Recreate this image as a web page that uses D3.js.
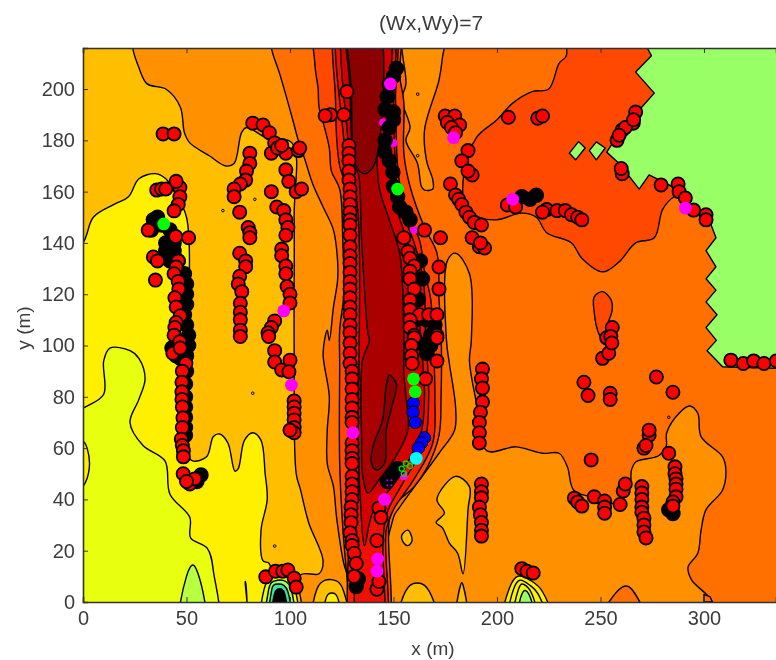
<!DOCTYPE html>
<html><head><meta charset="utf-8">
<script src="https://cdn.jsdelivr.net/npm/d3@7"></script>
<style>
html,body{margin:0;padding:0;background:#fff;overflow:hidden}
svg{display:block;filter:blur(0.55px)}
text{font-family:"Liberation Sans",Arial,sans-serif;fill:#3c3c3c}
</style></head><body>
<script>
const titleText="(Wx,Wy)=7", xLabel="x (m)", yLabel="y (m)";
const xTicks=[0,50,100,150,200,250,300];
const yTicks=[0,20,40,60,80,100,120,140,160,180,200];

// filled contour regions, in metres, listed from back to front
const leftOrange=[[-15,-15],[-15,232],[89,232],[91,216],[95,206],[101,189],[104,180],[107,173],[111,163],[116,154],[121,145],[123,133],[123,125.5],[121,115],[119,102],[118,106],[116,97],[119,80],[118,67],[118,54],[121,45],[122.5,33],[126,15],[129,7],[130,-15]];
const rightOrange=[[149,-15],[150,33],[153,37],[172,58],[179.5,67],[180,76],[177,93],[175.6,102],[176,133],[180,136],[186.7,128],[187.6,102],[186.7,94],[190,78],[195,59],[209,60.5],[222,58],[230,58],[234,52.7],[237,43.7],[245,41],[257.6,38.5],[264,43.7],[265,51.5],[267,54.6],[278,57],[281.7,60.5],[282,66],[288,73.6],[293,76.4],[297,73.6],[298.6,64.5],[309,56.6],[310.6,51.5],[309,43.7],[301,36],[298.6,28],[297,19],[292.3,13.6],[294,8.6],[304,0],[306,-15]];
const topFinger=[[153,232],[154,216],[156,202],[154,196],[158,185],[156,180],[161.6,171],[163.5,162],[165,160.6],[169,161],[169,164.5],[166,172],[165,184],[172,203.5],[173.6,212],[176,232]];
const rightRedOrange=[[233.5,232],[233.5,213],[230,210],[225,200],[217,199],[207.6,194.5],[200,188],[190,181],[184,167],[185,154],[191.5,150],[199.7,149],[212,151.6],[219,150],[224,144],[236,140],[241,134],[251,128.7],[259,132.6],[267,140],[276,142],[280,153],[285.6,158],[300,160],[300,232]];
const smallRedOrange=[[247,119],[251,121],[255,118],[255.7,114],[253,107],[253,100],[249,105],[247,112.7]];
const greenRegion=[[272.6,216],[274.6,213],[267,206.6],[276,198.4],[270,193],[257.6,181],[253,175.4],[259,171],[268.7,161],[273.5,166.5],[284.6,162],[294.3,154],[302.5,149],[305.8,142],[301,137],[305.8,130.7],[301,126],[305.8,121.6],[301,117],[306.3,112],[301,107],[306,102],[301.5,98],[309,91.7],[342,91],[342,216]];
const diamondA=[[235,175],[239.4,179.5],[242.6,177],[238,172.4]];
const diamondB=[[244.6,176],[248,179.4],[252.3,177],[248,172.4]];
const amberMain=[[-15,-15],[-15,232],[23,232],[24,216],[26.7,209],[31,202],[40,200],[47,193],[49,183],[51.6,179],[61,174],[69,170],[73,171],[76.6,183],[79,185],[88.6,181],[101,179],[102,150],[102,100],[103,50],[105,44],[109,31],[116,16],[114,11],[105,10.5],[104,-15]];
const yellowMain=[[-15,-15],[-15,128],[0,140],[5,150],[15,155],[22,158],[27,165],[35,167],[40,165],[44,160],[50,150],[50,100],[48,80],[47,65],[50,58],[53,55],[59.7,56.6],[63,64.5],[66,65.5],[70,62],[73.4,51],[75,52],[78,63],[82,66],[86,63],[88,50],[89,40],[86,28],[87,16],[90,15],[88,-15],[82,-15],[78.5,8],[76,-15]];
const limeMain=[[-15,-15],[-15,70],[1,76],[10,81],[10,94],[13,99],[22.7,98],[27,95],[30,87],[27,79],[22.7,70],[29,61],[39.6,55],[42,42],[51.6,33],[52,25],[60,21],[63,12],[63,-15]];
const limeHole=[[-8,68],[0,63],[2,60],[3,52],[0,45],[-8,40]];
const greenFinger=[[47,-15],[50,10],[53,14.4],[55.6,11],[59,-15]];
const amberPatch=[[170.6,31],[174.6,34.7],[171,40],[180,49],[186.7,45],[186,36],[183.6,11],[181,19],[177,23],[173.6,29]];
const amberBumpA=[[112,-15],[113,5],[117,8.5],[123,8],[126,4],[128,-15]];
const yellowBumpA=[[117,-15],[118.5,3],[122,3],[124,-15]];
const amberBumpB=[[152,-15],[158,6.5],[165,6.5],[172,-15]];
const amberBumpC=[[180,-15],[183,7.5],[186,-15]];
const amberSmall=[[154,26],[157,28],[159,24],[157,22],[155,23]];
const darkBumpRight=[[246,-15],[260.5,5.8],[264,5.8],[274,-15]];
const darkBumpCorner=[[300,0],[300,3],[303,2],[304,0]];
const centralBandOne=[[113,232],[112,210],[113.6,200],[114,193],[116,187],[119,177],[120,168],[124,161],[125.5,141],[126,120],[124,106],[124,93],[124,54],[125.6,28],[128,6],[131,-15],[146,-15],[148,32],[151.5,38.5],[160,45],[166,52],[172,65],[173,80],[173,105],[172,118],[171,136],[165,146],[158,162],[155,175],[155,195],[153,205],[151.5,232]];
const centralBandTwo=[[124,232],[122,195],[124,170],[128,160],[129,100],[129,40],[131.5,-15],[145,-15],[146.5,28],[150,36],[160,48],[169,62],[170,80],[169,106],[168,118],[165,129],[162.6,141],[155,155],[152,170],[151,195],[149,232]];
const centralBandThree=[[125.5,232],[126,180],[131,150],[131,100],[132,40],[134.5,-15],[143.5,-15],[145,25],[147,35],[155,47],[165,62],[167,80],[165.5,105],[164.5,125],[160,140],[153,155],[151,170],[150,190],[147.5,232]];
const centralBandFour=[[128,232],[128,180],[133,150],[133,60],[134,40],[136,22],[140,35],[152,48],[163,65],[165,80],[163,105],[162,125],[157,140],[151,155],[149,170],[148,190],[146,232]];
const centralDeep=[[128.5,232],[129,200],[131,170],[133,167],[134.6,141],[137.6,105],[138.4,102],[135,94],[134.6,63],[135,50],[137.6,42.5],[143,47.6],[151,56.6],[157,67],[156,80],[155,89],[155,105],[153,136],[148,149],[143,162],[142,180],[142,232]];
const centralCoreTop=[[129,232],[129.6,200],[132,170],[136,167],[141,171],[141,232]];
const centralCoreLow=[[148,88.5],[151.4,85],[149.7,77.6],[146.5,67],[145.7,54],[141.8,51.5],[139.4,54],[140,60.5],[144.7,71],[146.6,85]];
const blobA1=[[87,-15],[87.5,5],[90,9],[94,10],[99,9.5],[102,6],[103,-15]];
const blobA2=[[89,-15],[89.5,4],[91,7.5],[94,8.5],[98,8],[100.5,5],[101,-15]];
const blobA3=[[90.5,-15],[91,4],[92,6.5],[94.5,7],[97,6.5],[99,4],[99.5,-15]];
const blobA4=[[92,-15],[92.5,3],[94,5],[96,5],[97.5,3],[98,-15]];
const blobB0=[[203,-15],[206,5.4],[210,10],[217,8],[222,4],[228,-15]];
const blobB1=[[206,-15],[208,5],[211,8.5],[216,6.5],[220,3],[225,-15]];
const blobB2=[[208,-15],[210,4],[212,7],[216,4.5],[220,-15]];
const blobB3=[[210,-15],[212,3],[213.5,4.5],[216,2],[218,-15]];
const specks=[[67.6,152.6],[83,157],[82,81.4],[92.6,21.8],[161.7,198],[161.7,174],[283,72]];

// markers
const blackPoints=[[34,149],[36,150],[38,147],[33,145],[42,145],[40,140],[44,140],[40,137],[44,137],[42,133],[46,133],[44,135],[49,128],[50,124],[50,120],[50,116],[49,112],[50,108],[51,104],[51,100],[43,99],[45,96],[47,95],[50,96],[50,90],[49.5,85],[49.5,80],[49.5,76],[49.5,72],[49.5,68],[49.5,65],[57,49.5],[55,47],[151.4,208],[150,205],[148,202],[147,197],[146,192],[150,191],[148,185],[150,188],[146,180],[145.7,175.5],[148,172],[149.7,167.6],[150,162],[152,158],[153,154],[156,152],[158,149],[212,158],[219,158.6],[216,157],[149.7,50],[147,47],[152,52],[166,97],[132,6],[133,9],[285,34.5],[283,36],[162,101],[168,100],[170,108],[166,110],[168,104],[164,126],[162,118],[163,133],[161,110]];
const redPoints=[[38.7,182.5],[44,182.5],[35.6,160.6],[38,161],[40,161],[46.8,161.6],[45,164],[46.8,158],[46,155],[44,152.5],[44.8,142.5],[51,142],[31.5,145],[34,134.5],[36,133],[35,125.5],[46,133],[45,130.6],[44,128],[46,125],[46.3,122],[44.4,118.6],[45,115],[47,111.6],[45,109],[44.4,107],[44,104],[46.8,101.5],[43.4,97],[47,99],[49.7,93],[48,90],[47.8,85.7],[47.8,82],[47.8,79],[48,76],[48.3,71.8],[48,68],[47.5,63.5],[48,61],[48.5,59],[48.5,56.6],[48.4,50],[51.6,46],[54,48],[50,47],
[82,186.7],[87,186],[90,183],[92.6,179],[98,175],[91,175],[94,177],[96,178],[98,168.5],[99.4,164],[104,176],[103,160],[104.7,177],[105.6,161],[80.6,175],[80.6,171],[79,168],[78.6,164.5],[76,163],[73,161],[73,158],[75.7,152],[79.8,146],[80.6,144],[80.6,142],[75.7,136],[78.6,133],[78.6,130.7],[75.7,127],[75,124],[76.7,121],[76,116.5],[76,113],[76,110],[76,106],[76,103.5],
[91,160],[93.6,154],[97,152.6],[98,149],[99,146],[98,143],[96,137.6],[96,135],[98,131],[98,128],[98.6,123],[100,120],[100,116.6],[92.6,109.6],[91,107],[89.4,105],[89.7,103.5],[92.6,98],[92.6,93.6],[96,90.5],[100,94.3],[99.5,89.8],[102,78.4],[102,76],[102,73.6],[102,71],[102,68],[102,66],[100,67],
[88.3,9.8],[93,12],[96.5,12],[99,12.5],[102,9.3],[103,5.8],
[127.5,199],[126,190],[119.6,190],[117,189.6],[128.5,178],[128.5,175],[128.5,172],[128.5,168],[128.5,164.5],[129,161],[129,158],[129,155],[129,152],[129,149],[129,147],[129,143],[129,138.5],[129,135],[129,132],[129,128.6],[129,125],[129,122],[129,118.6],[129,115],[129,112],[129,108],[129,105],[129,101],[129,97],[129,93],[130,90],[130,87],[130,83],[130,79],[130,75.6],[130,72],[130,70],[130,62],[130,59],[130,56],[130,54],[130,49],[130,46],[130,43],[130,40],[129.5,37],[129.5,34],[129.5,31],[129,27],[130,24],[130,22],[131,19],[132,15],[131,10],
[155,142],[172.7,142],[165,145],[157,136.6],[158,134],[160,131],[172,130.6],[158,129],[158,126],[160,122],[172,122],[158,117.7],[158,114],[162.6,112],[167,112],[171,112],[158,110],[158,107],[160,104],[171,104],[160,103],[171,103],[158.7,100],[158.7,96],[159,93],[171,94],[165.5,87],[143,36.6],[144,33],[142,24],[142,5],[143,8],
[175,189.5],[179.6,189.5],[182,186],[176,187],[178,185],[180,183],[186,176],[183,172],[188,166.5],[186,168],[177.5,163],[180,158.7],[181.5,157],[183,155],[185,152],[186.7,150],[189,148],[192.5,147],[191.5,138.5],[188,142],[194,138],[192,140],
[193,90.8],[192.5,87],[193,83.4],[193,78],[192,74],[191.5,70],[191.5,66],[191.5,62],[192.5,46],[192.5,43],[192.5,40.6],[191.5,37],[192,34],[192.5,31],[192.5,28],[192.5,25.7],
[205.5,189],[219.7,188.6],[222,189.5],[265.8,186.7],[260.5,184],[262,185],[267,191],[266,188],[258,180],[259,182],[260.5,167],[260,169],[279.3,162.6],[287.5,163],[288,160],[291,157.5],[301,151],[301,149],[295,152.8],
[205,154.8],[209,154],[224,153],[222,152],[229,152.6],[233,152.6],[236,151],[239,150],[241,149],
[255.7,107],[253,103],[251,95],[254,97],[255,103.5],[255.5,101],[242,85.7],[244,80.5],[254.7,81.4],[254.7,79],[277,87.7],[285,81.8],[313,94.3],[319,93],[324,94],[329,93],[335,94],
[245.5,55.4],[273.5,65],[273.5,67],[271,60],[272,61],[283,58],[237.4,40.5],[239,39],[241,37.4],[247,41],[252,39.4],[252,37],[252,34.6],[259.5,38],[261,43.3],[262,46],
[270,45],[270,42.5],[270,40],[270,37],[270,35],[271,32.7],[271,30],[271,27.3],[272,25],[286,52.7],[286,50],[286.5,48],[286.5,46],[286.5,44],[286.5,41],[285,39],[285,37.4],
[212,13],[214.5,12],[217.5,11.3]];
const magentaUnder=[[145,187],[150,179],[147,171],[160,145],[159,93],[155,49],[100,117],[215,156]];
const magentaPoints=[[97,113.5],[100.7,84.6],[148.5,202],[179,181],[130.4,66],[145.7,40],[142.4,16.8],[142,12],[207.6,157],[291,153.6]];
const greenPoints=[[39,147.4],[152,161],[159.7,87],[160.5,82]];
const bluePoints=[[159.7,77.6],[159.5,74],[160.5,70],[165,64],[163.5,62],[162,60]];
const cyanPoints=[[161,56]];
const greenRings=[[154,52],[156,54],[155,50],[158,53]];
const purpleDots=[[147,47.5],[149,47.5],[147,45.5],[149,45.5]];

const W=776,H=660,L=83,T=48,B=602;
const x=d3.scaleLinear().domain([0,334.8]).range([L,W]);
const y=d3.scaleLinear().domain([0,216]).range([B,T]);
const svg=d3.select("body").append("svg").attr("width",W).attr("height",H);
svg.append("clipPath").attr("id","plot").append("rect").attr("x",L).attr("y",T).attr("width",W-L).attr("height",B-T);
const g=svg.append("g").attr("clip-path","url(#plot)");
g.append("rect").attr("x",x(0)).attr("y",y(216)).attr("width",x(334.8)-x(0)).attr("height",y(0)-y(216)).attr("fill","#ff7000");

const smooth=d3.line().x(d=>x(d[0])).y(d=>y(d[1])).curve(d3.curveCatmullRomClosed.alpha(0.5));
const sharp=d3.line().x(d=>x(d[0])).y(d=>y(d[1])).curve(d3.curveLinearClosed);
const regions=[
 [leftOrange,"#ff9000",smooth],[rightOrange,"#ff9000",smooth],[topFinger,"#ff9000",smooth],
 [rightRedOrange,"#ff4800",smooth],[smallRedOrange,"#ff4800",smooth],[greenRegion,"#99ff66",sharp],[diamondA,"#99ff66",sharp],[diamondB,"#99ff66",sharp],
 [amberMain,"#ffbf00",smooth],[yellowMain,"#fff000",smooth],[limeMain,"#e8ff10",smooth],[limeHole,"#fff000",smooth],[greenFinger,"#b8ff40",smooth],
 [amberPatch,"#ffbf00",smooth],[amberBumpA,"#ffbf00",smooth],[yellowBumpA,"#fff000",smooth],[amberBumpB,"#ffbf00",smooth],[amberBumpC,"#ffbf00",smooth],[amberSmall,"#ffbf00",smooth],
 [darkBumpRight,"#ff7000",smooth],[darkBumpCorner,"#ff7000",sharp],
 [centralBandOne,"#ff4800",smooth],[centralBandTwo,"#ff2000",smooth],[centralBandThree,"#f01000",smooth],[centralBandFour,"#d40000",smooth],[centralDeep,"#ab0000",smooth],[centralCoreTop,"#8b0000",smooth],[centralCoreLow,"#8b0000",smooth],
 [blobA1,"#e8ff10",smooth],[blobA2,"#99ff66",smooth],[blobA3,"#40e0a0",smooth],[blobA4,"#000000",smooth],
 [blobB0,"#fff000",smooth],[blobB1,"#fff000",smooth],[blobB2,"#e8ff10",smooth],[blobB3,"#99ff66",smooth]
];
g.selectAll("path.r").data(regions).join("path").attr("class","r")
 .attr("d",d=>d[2](d[0])).attr("fill",d=>d[1]).attr("stroke","#000").attr("stroke-width",1.4).attr("stroke-linejoin","round");
g.selectAll("circle.s").data(specks).join("circle").attr("class","s").attr("cx",d=>x(d[0])).attr("cy",d=>y(d[1])).attr("r",1.3).attr("fill","none").attr("stroke","#000");

function dots(data,r,fill,stroke,sw){
 g.append("g").selectAll("circle").data(data).join("circle")
  .attr("cx",d=>x(d[0])).attr("cy",d=>y(d[1])).attr("r",r).attr("fill",fill).attr("stroke",stroke).attr("stroke-width",sw);
}
dots(magentaUnder,4,"#ff00ff","none",0);
dots(blackPoints,7,"#000","#000",1.5);
dots(redPoints,6.6,"#ff0000","#000",1.8);
dots(bluePoints,6.2,"#0000ff","#000",1);
dots(greenRings,2.5,"none","#00e000",1.3);
dots(purpleDots,1,"#b000ff","none",0);
dots(magentaPoints,6.4,"#ff00ff","none",0);
dots(greenPoints,6.4,"#00ff00","none",0);
dots(cyanPoints,6.4,"#00ffff","none",0);

const ax=svg.append("g").attr("class","axes");
function style(s){s.select(".domain").attr("stroke","#333").attr("stroke-width",1.6);
 s.selectAll(".tick line").attr("stroke","#333").attr("stroke-width",1);
 s.selectAll(".tick text").attr("font-size",20).attr("font-family","Liberation Sans").attr("fill","#3c3c3c");}
ax.append("g").attr("transform",`translate(0,${B})`).call(d3.axisBottom(x).tickValues(xTicks).tickSize(-5).tickPadding(9).tickFormat(d3.format("d"))).call(style);
ax.append("g").attr("transform",`translate(0,${T})`).call(d3.axisTop(x).tickValues(xTicks).tickSize(-5).tickFormat("")).call(style);
ax.append("g").attr("transform",`translate(${L},0)`).call(d3.axisLeft(y).tickValues(yTicks).tickSize(-5).tickPadding(8).tickFormat(d3.format("d"))).call(style);
svg.append("text").attr("x",431).attr("y",30).attr("text-anchor","middle").attr("font-size",21).text(titleText);
svg.append("text").attr("x",433).attr("y",655).attr("text-anchor","middle").attr("font-size",19).text(xLabel);
svg.append("text").attr("transform","translate(30,328) rotate(-90)").attr("text-anchor","middle").attr("font-size",19).text(yLabel);
</script>
</body></html>
